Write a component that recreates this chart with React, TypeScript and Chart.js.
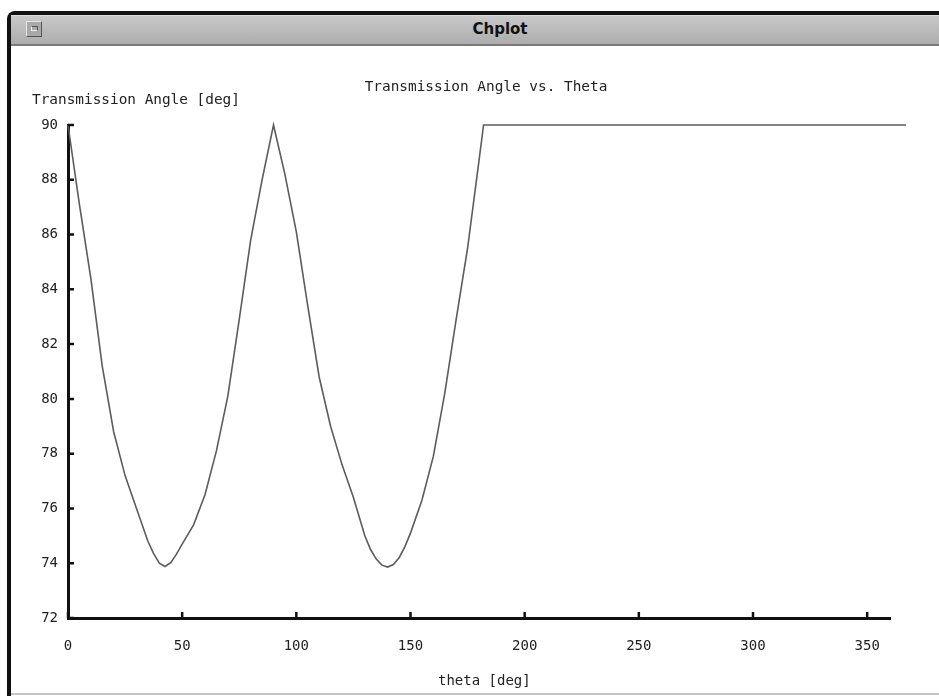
import React, { useEffect, useRef } from "react";
import { Chart, registerables } from "chart.js";

Chart.register(...registerables);

// ---- data ----
const THETA = [
  0, 5, 10, 15, 20, 25, 30, 35, 37.5, 40, 42.5, 45, 47.5, 50, 55, 60, 65, 70, 75, 80, 85, 90,
  95, 100, 105, 110, 115, 120, 125, 130, 132.5, 135, 137.5, 140, 142.5, 145, 147.5, 150, 155,
  160, 165, 170, 175, 180, 182, 200, 250, 300, 350, 367,
];
const ANGLE = [
  90, 87.1, 84.4, 81.2, 78.8, 77.2, 76.0, 74.8, 74.35, 74.0, 73.88, 74.02, 74.33, 74.7, 75.4,
  76.5, 78.1, 80.1, 82.9, 85.8, 88.0, 90,
  88.2, 86.1, 83.4, 80.8, 79.0, 77.6, 76.4, 75.0, 74.5, 74.15, 73.93, 73.86, 73.95, 74.2, 74.6,
  75.1, 76.3, 77.9, 80.2, 82.9, 85.5, 88.7, 90, 90, 90, 90, 90, 90,
];
const X_TICKS = [0, 50, 100, 150, 200, 250, 300, 350];
const Y_TICKS = [72, 74, 76, 78, 80, 82, 84, 86, 88, 90];
const X_MIN = 0;
const X_MAX = 360;
const Y_MIN = 72;
const Y_MAX = 90;
const WINDOW_TITLE = "Chplot";
const CHART_TITLE = "Transmission Angle vs. Theta";
const Y_LABEL = "Transmission Angle [deg]";
const X_LABEL = "theta [deg]";

const MONO = "'DejaVu Sans Mono', 'Liberation Mono', monospace";
const TEXT_COLOR = "#222";

const decorPlugin = {
  id: "decor",
  afterDraw(chart: any) {
    const ctx = chart.ctx as CanvasRenderingContext2D;
    const xs = chart.scales.x;
    const ys = chart.scales.y;
    const area = chart.chartArea;
    ctx.save();
    // inward tick marks
    ctx.strokeStyle = "#111";
    ctx.lineWidth = 2.5;
    ctx.beginPath();
    Y_TICKS.forEach((v) => {
      const py = ys.getPixelForValue(v);
      ctx.moveTo(area.left, py);
      ctx.lineTo(area.left + 6, py);
    });
    X_TICKS.forEach((v) => {
      const px = xs.getPixelForValue(v);
      ctx.moveTo(px, area.bottom);
      ctx.lineTo(px, area.bottom - 6);
    });
    ctx.stroke();

    // texts
    ctx.fillStyle = TEXT_COLOR;
    ctx.font = `14.4px ${MONO}`;
    ctx.textBaseline = "alphabetic";
    ctx.textAlign = "center";
    ctx.fillText(CHART_TITLE, area.left + 418, area.top - 34);
    ctx.textAlign = "left";
    ctx.fillText(Y_LABEL, area.left - 36, area.top - 21);
    ctx.font = `14px ${MONO}`;
    ctx.fillText(X_LABEL, area.left + 370, area.bottom + 67);
    ctx.restore();
  },
};

export default function App() {
  const canvasRef = useRef<HTMLCanvasElement | null>(null);

  useEffect(() => {
    document.body.style.margin = "0";
    document.documentElement.style.overflow = "hidden";
    const canvas = canvasRef.current;
    if (!canvas) return;
    const points = THETA.map((t, i) => ({ x: t, y: ANGLE[i] }));
    const tickFont = { family: MONO, size: 14 };
    const chart = new Chart(canvas, {
      type: "line",
      data: {
        datasets: [
          {
            data: points,
            borderColor: "#5c5c5c",
            borderWidth: 1.6,
            pointRadius: 0,
            tension: 0,
            fill: false,
            clip: false as any,
          },
        ],
      },
      options: {
        animation: false,
        responsive: false,
        devicePixelRatio: 1,
        layout: { padding: { left: 0, top: 125, right: 49, bottom: 0 } },
        plugins: {
          legend: { display: false },
          title: { display: false },
          tooltip: { enabled: false },
        },
        scales: {
          x: {
            type: "linear",
            min: X_MIN,
            max: X_MAX,
            afterFit: (s: any) => {
              s.height = 78;
            },
            afterBuildTicks: (s: any) => {
              s.ticks = X_TICKS.map((v) => ({ value: v }));
            },
            grid: { display: false, drawTicks: false },
            border: { display: true, color: "#111", width: 3 },
            ticks: {
              padding: 20,
              color: TEXT_COLOR,
              font: tickFont,
              maxRotation: 0,
              autoSkip: false,
              callback: (v: any) => String(v),
            },
          },
          y: {
            type: "linear",
            min: Y_MIN,
            max: Y_MAX,
            afterFit: (s: any) => {
              s.width = 68;
            },
            afterBuildTicks: (s: any) => {
              s.ticks = Y_TICKS.map((v) => ({ value: v }));
            },
            grid: { display: false, drawTicks: false },
            border: { display: true, color: "#111", width: 3 },
            ticks: {
              padding: 10,
              color: TEXT_COLOR,
              font: tickFont,
              autoSkip: false,
              callback: (v: any) => String(v),
            },
          },
        },
      },
      plugins: [decorPlugin],
    } as any);
    return () => chart.destroy();
  }, []);

  return (
    <div
      style={{
        position: "absolute",
        left: 0,
        top: 0,
        width: 939,
        height: 696,
        background: "#fff",
        overflow: "hidden",
      }}
    >
      {/* window outer border */}
      <div
        style={{
          position: "absolute",
          left: 7,
          top: 11,
          width: 960,
          height: 682,
          borderLeft: "4px solid #111",
          borderTop: "4px solid #111",
          borderTopLeftRadius: 8,
        }}
      />
      {/* title bar */}
      <div
        style={{
          position: "absolute",
          left: 11,
          top: 15,
          width: 928,
          height: 28,
          background: "linear-gradient(#c8c8c8, #adadad)",
          borderTop: "1px solid #dcdcdc",
          borderBottom: "2px solid #7a7a7a",
        }}
      />
      {/* window menu button */}
      <div
        style={{
          position: "absolute",
          left: 26,
          top: 21,
          width: 14,
          height: 14,
          background: "#a9a9a9",
          borderTop: "1px solid #e6e6e6",
          borderLeft: "1px solid #e6e6e6",
          borderRight: "1px solid #555",
          borderBottom: "1px solid #555",
        }}
      >
        <div
          style={{
            position: "absolute",
            left: 4,
            top: 4,
            width: 5,
            height: 3,
            borderTop: "1px solid #555",
            borderLeft: "1px solid #eee",
            borderBottom: "1px solid #eee",
            borderRight: "1px solid #555",
          }}
        />
      </div>
      {/* window title */}
      <div
        style={{
          position: "absolute",
          left: 0,
          top: 20,
          width: 1000,
          textAlign: "center",
          fontFamily: "'DejaVu Sans', sans-serif",
          fontWeight: "bold",
          fontSize: 15,
          lineHeight: "18px",
          color: "#111",
        }}
      >
        {WINDOW_TITLE}
      </div>
      {/* bottom edge */}
      <div
        style={{
          position: "absolute",
          left: 11,
          top: 693,
          width: 928,
          height: 2,
          background: "#c4c4c4",
        }}
      />
      <canvas
        ref={canvasRef}
        width={939}
        height={696}
        style={{ position: "absolute", left: 0, top: 0, width: 939, height: 696 }}
      />
    </div>
  );
}
